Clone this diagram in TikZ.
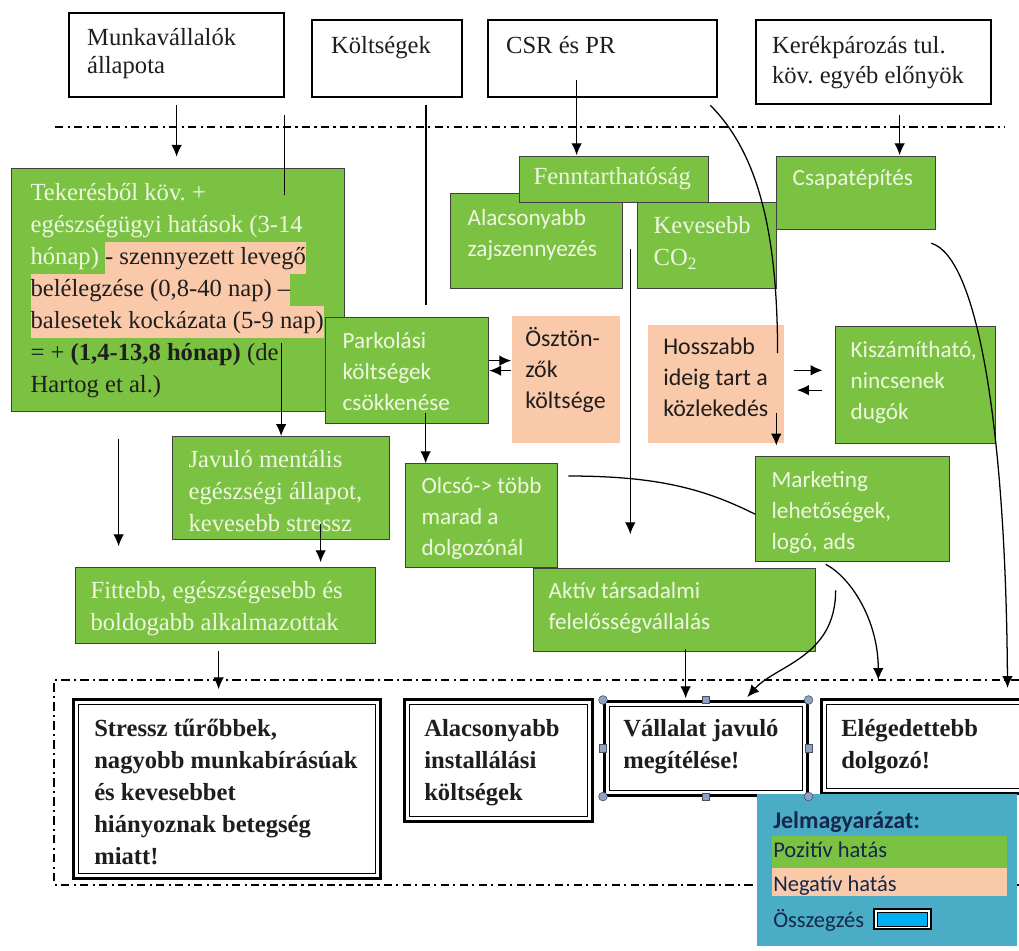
\documentclass[tikz,border=0pt]{standalone}
\usepackage{fontspec}
\setmainfont{Liberation Serif}
\setsansfont{Carlito}
\usetikzlibrary{arrows.meta}
\frenchspacing

\definecolor{posfill}{RGB}{124,194,66}
\definecolor{postext}{RGB}{238,247,226}
\definecolor{negfill}{RGB}{250,201,170}
\definecolor{ink}{RGB}{30,30,30}
\definecolor{legfill}{RGB}{75,172,198}
\definecolor{legtext}{RGB}{20,40,75}
\definecolor{handle}{RGB}{140,163,196}
\definecolor{sumblue}{RGB}{0,176,240}

\newdimen\px \px=0.025cm
% box text: width, height, top pad, left pad (px), text
\newcommand{\cell}[5]{\parbox[t][#2\px][t]{#1\px}{\vspace*{#3\px}\raggedright\leftskip=#4\px\relax\strut#5}}
\newcommand{\hl}[1]{{\fboxsep=0pt\colorbox{negfill}{\strut\color{ink}#1}}}

\begin{document}
\begin{tikzpicture}[x=0.025cm,y=-0.025cm,
serif/.style={font=\fontsize{17.5}{22.7}\selectfont},
sans/.style={font=\sffamily\fontsize{16.5}{22}\selectfont},
topbox/.style={draw,line width=1.6pt,fill=white,text=ink,inner sep=0pt,anchor=north west,serif},
gbox/.style={draw=black!75,line width=0.9pt,fill=posfill,text=postext,inner sep=0pt,anchor=north west},
nbox/.style={fill=negfill,text=ink,inner sep=0pt,anchor=north west,sans,font=\sffamily\fontsize{17}{22}\selectfont},
sumbox/.style={draw,line width=1.8pt,fill=white,text=ink,inner sep=0pt,anchor=north west,
  font=\bfseries\fontsize{17.5}{22.7}\selectfont,
  path picture={\draw[line width=0.7pt] ([shift={(5,5)}]path picture bounding box.north west)
    rectangle ([shift={(-5,-5)}]path picture bounding box.south east);}},
hdot/.style={circle,draw=handle!50!black,fill=handle,line width=0.4pt,inner sep=0pt,minimum size=0.22cm},
hsq/.style={rectangle,draw=handle!50!black,fill=handle,line width=0.4pt,inner sep=0pt,minimum size=0.18cm},
arr/.style={-{Latex[length=8.5pt,width=7.5pt]},line width=0.9pt},
wire/.style={line width=0.9pt},
sepline/.style={line width=0.8pt,dash pattern=on 6pt off 3pt on 1.5pt off 3pt}]

\path[use as bounding box,fill=white] (0,0) rectangle (1019,950);

% top row
\node[topbox,font=\fontsize{17.5}{19.8}\selectfont] (mv) at (68,12) {\cell{215}{84}{13}{18}{Munkavállalók\\állapota}};
\node[topbox] (kolt) at (311,19) {\cell{150}{77}{11}{19}{Költségek}};
\node[topbox] (csr) at (487,19) {\cell{229}{77}{11}{18}{CSR és PR}};
\node[topbox,font=\fontsize{17.5}{21.3}\selectfont] (kerek) at (755,19) {\cell{235}{84}{12}{16}{Kerékpározás tul.\\köv. egyéb előnyök}};
\draw[sepline] (55,127) -- (1005,127);

% effects
\node[gbox,serif] (teker) at (11,168) {\cell{333}{243}{10}{19}{Tekerésből köv. +\\egészségügyi hatások (3-14\\hónap) \hl{- szennyezett levegő}\\\hl{belélegzése (0,8-40 nap) –}\\\hl{balesetek kockázata (5-9 nap)}\\{\color{ink}= + \textbf{(1,4-13,8 hónap)} (de}\\{\color{ink}Hartog et al.)}}};
\node[gbox,sans] (zaj) at (450,193) {\cell{172}{95}{10}{17}{Alacsonyabb\\zajszennyezés}};
\node[gbox,serif] (co2) at (637,202) {\cell{139}{86}{9}{16}{Kevesebb\\CO\textsubscript{2}}};
\node[gbox,sans] (csapat) at (776,156) {\cell{159}{73}{7}{16}{Csapatépítés}};
\node[gbox,serif] (fennt) at (519,156) {\cell{189}{46}{6}{14}{Fenntarthatóság}};
\node[gbox,sans] (park) at (325,317) {\cell{163}{106}{9}{17}{Parkolási\\költségek\\csökkenése}};
\node[nbox] (oszt) at (512,316) {\cell{108}{127}{9}{13}{Ösztön-\\zők\\költsége}};
\node[nbox] (hossz) at (648,325) {\cell{136}{118}{8}{15}{Hosszabb\\ideig tart a\\közlekedés}};
\node[gbox,sans] (kiszam) at (835,326) {\cell{160}{117}{9}{15}{Kiszámítható,\\nincsenek\\dugók}};
\node[gbox,serif] (javulo) at (172,436) {\cell{217}{103}{9}{16}{Javuló mentális\\egészségi állapot,\\kevesebb stressz}};
\node[gbox,serif] (fitt) at (75,567) {\cell{300}{76}{9}{15}{Fittebb, egészségesebb és\\boldogabb alkalmazottak}};
\node[gbox,sans] (olcso) at (405,463) {\cell{152}{104}{8}{16}{Olcsó-> több\\marad a\\dolgozónál}};
\node[gbox,sans] (mark) at (755,456) {\cell{194}{105}{9}{16}{Marketing\\lehetőségek,\\logó, ads}};
\node[gbox,sans] (aktiv) at (533,568) {\cell{282}{83}{8}{15}{Aktív társadalmi\\felelősségvállalás}};

% summary
\draw[sepline] (1019,680) -| (54,885) -- (1019,885);
\node[sumbox] (stressz) at (72,698) {\cell{307}{179}{15}{21}{Stressz tűrőbbek,\\nagyobb munkabírásúak\\és kevesebbet\\hiányoznak betegség\\miatt!}};
\node[sumbox] (alacs) at (403,698) {\cell{188}{122}{15}{20}{Alacsonyabb\\installálási\\költségek}};
\node[sumbox] (vall) at (603,700) {\cell{203}{94}{13}{19}{Vállalat javuló\\megítélése!}};
\node[sumbox] (eleg) at (820,698) {\cell{212}{94}{15}{20}{Elégedettebb\\dolgozó!}};

% connectors
\draw[arr,shorten <=0.18cm,shorten >=0.28cm] (mv.south) -- (mv.south |- teker.north);
\draw[wire] ([shift={(-1,17)}]mv.south east) -- ++(0,80);
\draw[arr] ([shift={(0,-93)}]javulo.north) -- (javulo.north);
\draw[wire] ([shift={(39,7)}]kolt.south) -- ++(0,200);
\draw[arr] ([shift={(-26,-18)}]csr.south) -- ++(0,75);
\draw[wire] ([shift={(-8,7)}]csr.south east) .. controls +(47,47) and +(0,-123) .. ([shift={(-7,28)}]hossz.north east);
\draw[arr] ([shift={(26,10)}]kerek.south) -- ++(0,40);
\draw[arr] ([shift={(-5,13)}]csapat.south east) .. controls +(45,13) and +(-2,-268) .. ([shift={(-27,-10)}]eleg.north east);
\draw[arr] ([shift={(7,-40)}]zaj.south east) -- ++(0,285);
\draw[arr] ([shift={(0,-10)}]park.east) -- +(22,0);
\draw[arr] ([shift={(22,0)}]park.east) -- (park.east);
\draw[arr] ([shift={(9,-14)}]hossz.east) -- +(29,0);
\draw[arr] ([shift={(-13,5)}]kiszam.west) -- +(-25,0);
\draw[arr] ([shift={(60,-31)}]hossz.south) -- ++(0,33);
\draw[arr] ([shift={(-59.5,27)}]teker.south) -- ++(0,107);
\draw[arr] ([shift={(39.5,-16)}]javulo.south) -- ++(0,38);
\draw[arr] ([shift={(18.5,-11)}]park.south) -- ++(0,50);
\draw[wire] ([shift={(10,13)}]olcso.north east) .. controls +(90,0) and +(-50,-25) .. ([shift={(0,5)}]mark.west);
\draw[arr] ([shift={(-7,7)}]fitt.south) -- ++(0,38);
\draw[arr] ([shift={(11,-3)}]aktiv.south) -- ++(0,49);
\draw[arr] ([shift={(-17,28)}]mark.south) .. controls +(0,67) and +(29,-32) .. ([shift={(41.5,-3)}]vall.north);
\draw[arr] ([shift={(-27,2)}]mark.south) .. controls +(25,13) and +(0,-60) .. ([shift={(-49,-18)}]eleg.north);

% legend
\node[fill=legfill,inner sep=0pt,anchor=north west,minimum width=6.5cm,minimum height=3.78cm] (leg) at (757,794) {};
\node[anchor=base west,inner sep=0pt,text=legtext,font=\sffamily\bfseries\fontsize{17}{20}\selectfont] (legtitle) at (773,828) {Jelmagyarázat:};
\node[fill=posfill,text=legtext,inner sep=0pt,anchor=north west,font=\sffamily\fontsize{16}{20}\selectfont] (legpos) at (772,836) {\cell{235}{32}{2}{1}{Pozitív hatás}};
\node[fill=negfill,text=legtext,inner sep=0pt,anchor=north west,font=\sffamily\fontsize{16}{20}\selectfont] (legneg) at (772,868) {\cell{235}{28}{4}{1}{Negatív hatás}};
\node[anchor=base west,inner sep=0pt,text=legtext,font=\sffamily\fontsize{16}{20}\selectfont] (legsum) at (773,927) {Összegzés};
\node[draw,line width=1.4pt,fill=white,inner sep=0pt,anchor=north west,minimum width=1.42cm,minimum height=0.5cm,
  path picture={\filldraw[fill=sumblue,line width=0.6pt] ([shift={(3,3)}]path picture bounding box.north west)
    rectangle ([shift={(-3,-3)}]path picture bounding box.south east);}] (legicon) at (873,908) {};

% selection handles
\foreach \c/\n in {north west/nw,north east/ne,south west/sw,south east/se}
  \node[hdot] (h\n) at (vall.\c) {};
\foreach \c/\n in {north/n,south/s,west/w,east/e}
  \node[hsq] (h\n) at (vall.\c) {};
\end{tikzpicture}
\end{document}
